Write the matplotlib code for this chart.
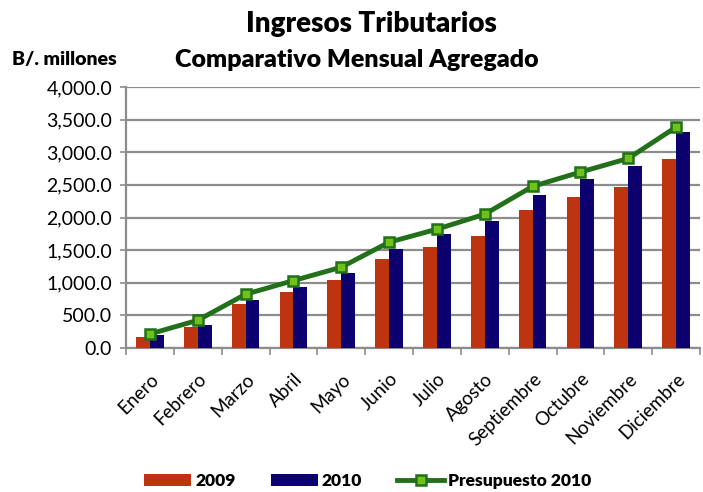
import numpy as np
import matplotlib.pyplot as plt
from matplotlib.ticker import FuncFormatter

plt.rcParams['font.family'] = ['Lato', 'DejaVu Sans']

meses = ['Enero', 'Febrero', 'Marzo', 'Abril', 'Mayo', 'Junio', 'Julio',
         'Agosto', 'Septiembre', 'Octubre', 'Noviembre', 'Diciembre']
v2009 = [170, 317, 670, 864, 1043, 1371, 1555, 1724, 2118, 2307, 2471, 2900]
v2010 = [200, 353, 737, 941, 1151, 1524, 1744, 1954, 2348, 2583, 2793, 3315]
presupuesto = [215, 425, 824, 1033, 1238, 1621, 1821, 2051, 2476, 2696, 2905, 3386]

fig = plt.figure(figsize=(7.03, 4.92), dpi=100)
ax = fig.add_axes([126/703, 1-348/492, 574/703, 261/492])

x = np.arange(len(meses))
w = 0.29
b1 = ax.bar(x - w/2, v2009, w, color='#BE3410', label='2009', zorder=3)
b2 = ax.bar(x + w/2, v2010, w, color='#0B006E', label='2010', zorder=3)
ln, = ax.plot(x, presupuesto, color='#22701A', lw=3.5, marker='s', ms=7,
              mfc='#6EC21A', mec='#22701A', mew=1.8, label='Presupuesto 2010', zorder=4)

ax.set_xlim(-0.5, len(meses) - 0.5)
ax.set_ylim(0, 4000)
ax.set_yticks(np.arange(0, 4001, 500))
ax.yaxis.set_major_formatter(FuncFormatter(lambda v, p: f'{v:,.1f}'))
ax.grid(axis='y', color='#8C8C8C', lw=1.6, zorder=0)
ax.set_xticks(x)
ax.set_xticklabels(meses, rotation=45, ha='right', rotation_mode='anchor', fontsize=13.5)
ax.set_xticks(np.arange(-0.5, len(meses)), minor=True)
ax.tick_params(axis='x', which='major', length=0, pad=16)
ax.tick_params(axis='x', which='minor', length=5, color='#8C8C8C', width=1.2)
ax.tick_params(axis='y', labelsize=14, length=4, color='#8C8C8C', width=1.2, pad=6)
for s in ['top', 'right']:
    ax.spines[s].set_visible(False)
ax.spines['left'].set_color('#8C8C8C')
ax.spines['left'].set_linewidth(1.6)
ax.spines['bottom'].set_color('#8C8C8C')
ax.spines['bottom'].set_linewidth(1.6)

fig.text(371/703, 1 - 24/492, 'Ingresos Tributarios', ha='center', va='center',
         fontsize=20, fontweight='heavy')
fig.text(357/703, 1 - 60/492, 'Comparativo Mensual Agregado', ha='center', va='center',
         fontsize=18, fontweight='heavy')
fig.text(12/703, 1 - 60/492, 'B/. millones', ha='left', va='center',
         fontsize=14, fontweight='heavy')

fig.legend([b1, b2, ln], ['2009', '2010', 'Presupuesto 2010'],
           loc='center', bbox_to_anchor=(368/703, 1 - 481/492), ncol=3, frameon=False,
           prop={'size': 12.5, 'weight': 'heavy'}, handlelength=2.7, handletextpad=0.25,
           columnspacing=2.0, handleheight=0.75)

fig.savefig('out.png', dpi=100)
